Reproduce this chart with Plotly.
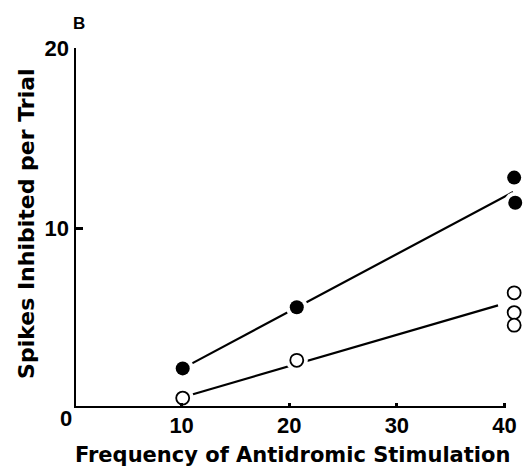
import plotly.graph_objects as go

# Data
filled_x = [10.1, 20.7, 40.9, 41.0]
filled_y = [2.2, 5.6, 12.8, 11.4]
open_x = [10.1, 20.7, 40.9, 40.9, 40.9]
open_y = [0.55, 2.65, 6.4, 5.3, 4.6]

filled_fit_x = [10.1, 40.8]
filled_fit_y = [2.2, 12.0]
open_fit_x = [10.1, 39.4]
open_fit_y = [0.6, 5.7]

x_ticks = [10, 20, 30, 40]
y_ticks = [10, 20]

TICK_FONT = dict(family="Liberation Sans", size=22, color="black", weight="bold")
TITLE_FONT = dict(family="DejaVu Sans", size=21, color="black", weight="bold")

fig = go.Figure()

# regression lines
fig.add_trace(go.Scatter(x=filled_fit_x, y=filled_fit_y, mode="lines",
                         line=dict(color="black", width=2.2), hoverinfo="skip"))
fig.add_trace(go.Scatter(x=open_fit_x, y=open_fit_y, mode="lines",
                         line=dict(color="black", width=2.2), hoverinfo="skip"))

# white halos to create gaps in the lines around markers
fig.add_trace(go.Scatter(x=filled_x + open_x, y=filled_y + open_y, mode="markers",
                         marker=dict(color="white", size=22, line=dict(width=0)),
                         cliponaxis=False, hoverinfo="skip"))

# data markers
fig.add_trace(go.Scatter(x=filled_x, y=filled_y, mode="markers",
                         marker=dict(color="black", size=14, line=dict(width=0)),
                         cliponaxis=False))
fig.add_trace(go.Scatter(x=open_x, y=open_y, mode="markers",
                         marker=dict(color="white", size=13, line=dict(color="black", width=1.8)),
                         cliponaxis=False))

# axis lines
fig.add_shape(type="line", xref="x", yref="y", x0=0, x1=40, y0=0, y1=0,
              line=dict(color="black", width=4))
fig.add_shape(type="line", xref="x", yref="y", x0=0, x1=0, y0=0, y1=20,
              line=dict(color="black", width=4))

fig.update_xaxes(range=[0, 42], tickvals=x_ticks, ticktext=[str(v) for v in x_ticks],
                 ticks="inside", ticklen=5, tickwidth=3, tickcolor="black",
                 showline=False, showgrid=False, zeroline=False, automargin=False,
                 tickfont=TICK_FONT, ticklabelstandoff=2)
fig.update_yaxes(range=[0, 20], tickvals=y_ticks, ticktext=[str(v) for v in y_ticks],
                 ticks="inside", ticklen=9, tickwidth=3, tickcolor="black",
                 showline=False, showgrid=False, zeroline=False, automargin=False,
                 tickfont=TICK_FONT, ticklabelstandoff=4)

fig.update_layout(
    width=527, height=468,
    margin=dict(l=74, r=1, t=48, b=60),
    paper_bgcolor="white", plot_bgcolor="white",
    showlegend=False,
    annotations=[
        dict(text="0", xref="x", yref="y", x=0, y=0, xanchor="right", yanchor="top",
             xshift=0, yshift=4, showarrow=False, font=TICK_FONT),
        dict(text="B", xref="paper", yref="paper", x=0.01, y=1.0667,
             xanchor="center", yanchor="middle", showarrow=False,
             font=dict(family="Liberation Sans", size=17, color="black", weight="bold")),
        dict(text="Frequency of Antidromic Stimulation", xref="paper", yref="paper",
             x=0.4845, y=-0.093, xanchor="center", yanchor="top", showarrow=False,
             font=TITLE_FONT),
        dict(text="Spikes Inhibited per Trial", xref="paper", yref="paper",
             x=-0.104, y=0.514, xanchor="center", yanchor="middle", textangle=-90,
             showarrow=False, font=dict(family="DejaVu Sans", size=22, color="black", weight="bold")),
    ],
)

fig.write_html("out.html", config={"displayModeBar": False},
               post_script="document.body.style.margin='0px';document.body.style.padding='0px';")
